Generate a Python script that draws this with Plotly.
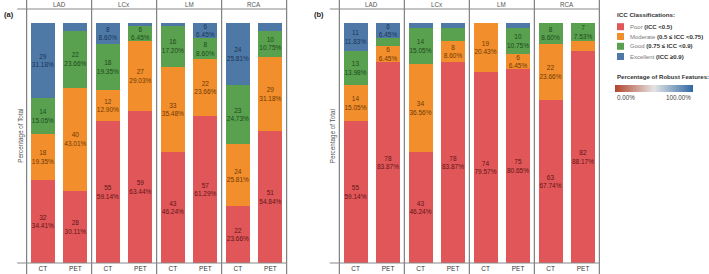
import plotly.graph_objects as go

# ---------------- data ----------------
arteries = ["LAD", "LCx", "LM", "RCA"]
modalities = ["CT", "PET"]
classes = ["Poor", "Moderate", "Good", "Excellent"]
class_ranges = ["(ICC <0.5)", "(0.5 \u2264 ICC <0.75)", "(0.75 \u2264 ICC <0.9)", "(ICC \u22650.9)"]
total_features = 93

# values ordered: LAD CT, LAD PET, LCx CT, LCx PET, LM CT, LM PET, RCA CT, RCA PET
a_poor = [32, 28, 55, 59, 43, 57, 22, 51]
a_moderate = [18, 40, 12, 27, 33, 22, 24, 29]
a_good = [14, 22, 18, 6, 16, 8, 23, 10]
a_excellent = [29, 3, 8, 1, 1, 6, 24, 3]

b_poor = [55, 78, 43, 78, 74, 75, 63, 82]
b_moderate = [14, 6, 34, 8, 19, 6, 22, 4]
b_good = [13, 3, 14, 5, 0, 10, 8, 7]
b_excellent = [11, 6, 2, 2, 0, 2, 0, 0]

panels = {"(a)": [a_poor, a_moderate, a_good, a_excellent],
          "(b)": [b_poor, b_moderate, b_good, b_excellent]}

# ---------------- styles ----------------
W, H = 709, 274
bar_colors = ["#E15759", "#F28E2B", "#59A14F", "#4E79A7"]
text_colors = ["#5E1517", "#6E3A05", "#1E4A1A", "#1B3558"]
FONT = "Liberation Sans, Arial, sans-serif"


def px(x):
    return x / W


def py(y):
    return 1 - y / H


panel_left = [26.7, 339.3]
facet_w = 65.0
plot_top, plot_bot = 9.0, 263.0
bar_top = 23.0
y_max = total_features * (plot_bot - plot_top) / (plot_bot - bar_top)

fig = go.Figure()
layout = dict(
    width=W, height=H, margin=dict(l=0, r=0, t=0, b=0, pad=0, autoexpand=False),
    paper_bgcolor="white", plot_bgcolor="white",
    barmode="stack", bargap=1 - 24 / 32.5, showlegend=False,
    font=dict(family=FONT, size=6.5, color="#333"),
    uniformtext=dict(minsize=6.5, mode="show"),
)
shapes, annotations = [], []

for p, (plabel, series) in enumerate(panels.items()):
    yname = "y" if p == 0 else "y2"
    ykey = "yaxis" if p == 0 else "yaxis2"
    left = panel_left[p]
    for i, art in enumerate(arteries):
        k = p * 4 + i + 1
        xname = "x" if k == 1 else f"x{k}"
        xkey = "xaxis" if k == 1 else f"xaxis{k}"
        x0 = left + i * facet_w
        layout[xkey] = dict(domain=[px(x0), px(x0 + facet_w)], anchor=yname,
                            showgrid=False, zeroline=False, showline=False,
                            ticks="", tickfont=dict(size=6.5, color="#333"),
                            automargin=False, fixedrange=True)
        for c, cls in enumerate(classes):
            vals = series[c][2 * i:2 * i + 2]
            texts = [f"{v}<br>{v / total_features * 100:.2f}%" if v >= 6 else "" for v in vals]
            fig.add_trace(go.Bar(
                x=modalities, y=vals, xaxis=xname, yaxis=yname, name=cls,
                marker=dict(color=bar_colors[c], line=dict(width=0)),
                text=texts, textposition="inside", insidetextanchor="middle",
                textangle=0, textfont=dict(size=6.5, color=text_colors[c], family=FONT),
                hoverinfo="skip",
            ))
        # facet header
        annotations.append(dict(x=px(x0 + facet_w / 2), y=py(4.5), xref="paper", yref="paper",
                                text=art, showarrow=False, font=dict(size=6.3, color="#555"),
                                xanchor="center", yanchor="middle"))
    layout[ykey] = dict(domain=[py(plot_bot), py(plot_top)], range=[0, y_max],
                        anchor="x" if p == 0 else "x5", visible=False, fixedrange=True)
    # vertical separators
    for j in range(5):
        xv = left + j * facet_w
        shapes.append(dict(type="line", xref="paper", yref="paper", x0=px(xv), x1=px(xv),
                           y0=0, y1=1, line=dict(color="#666", width=1)))
    # horizontal lines
    for yh in (plot_top, plot_bot):
        shapes.append(dict(type="line", xref="paper", yref="paper", x0=px(left - 9.5),
                           x1=px(left + 4 * facet_w), y0=py(yh), y1=py(yh),
                           line=dict(color="#888", width=1)))
    # y-axis title
    annotations.append(dict(x=px(left - 6), y=py(136), xref="paper", yref="paper",
                            text="Percentage of Total", textangle=-90, showarrow=False,
                            font=dict(size=6.3, color="#555"), xanchor="center", yanchor="middle"))
    # panel label
    annotations.append(dict(x=px(2 if p == 0 else 312), y=py(15), xref="paper", yref="paper",
                            text=f"<b>{plabel}</b>", showarrow=False,
                            font=dict(size=7.5, color="#222"), xanchor="left", yanchor="middle"))

# ---------------- legend ----------------
lx = 615
annotations.append(dict(x=px(lx), y=py(15), xref="paper", yref="paper",
                        text="<b>ICC Classifications:</b>", showarrow=False,
                        font=dict(size=6.2, color="#333"), xanchor="left", yanchor="middle"))
row_y = [26.7, 36.5, 46.3, 56.5]
for c, cls in enumerate(classes):
    yy = row_y[c]
    shapes.append(dict(type="rect", xref="paper", yref="paper",
                       x0=px(lx + 2), x1=px(lx + 9), y0=py(yy + 3.5), y1=py(yy - 3.5),
                       fillcolor=bar_colors[c], line=dict(width=0)))
    annotations.append(dict(x=px(lx + 12.5), y=py(yy), xref="paper", yref="paper",
                            text=f"<span style='color:#777'>{cls}</span> <b>{class_ranges[c]}</b>",
                            showarrow=False, font=dict(size=6.0, color="#333"),
                            xanchor="left", yanchor="middle"))

annotations.append(dict(x=px(lx), y=py(76), xref="paper", yref="paper",
                        text="<b>Percentage of Robust Features:</b>", showarrow=False,
                        font=dict(size=6.1, color="#333"), xanchor="left", yanchor="middle"))
fig.add_trace(go.Scatter(
    x=[None], y=[None], xaxis="x", yaxis="y", mode="markers", hoverinfo="skip",
    marker=dict(color=[0], cmin=0, cmax=100,
                colorscale=[[0, "#B2442C"], [0.5, "#E4E4E4"], [1, "#2F68A5"]],
                showscale=True,
                colorbar=dict(orientation="h", x=px(lx), xanchor="left", y=py(85),
                              yanchor="top", len=78, lenmode="pixels", thickness=7,
                              thicknessmode="pixels", outlinewidth=0, showticklabels=False,
                              ticks="", xpad=0, ypad=0)),
))
shapes.append(dict(type="line", xref="paper", yref="paper", x0=px(654), x1=px(654),
                   y0=py(89), y1=py(92), line=dict(color="#444", width=1)))
annotations.append(dict(x=px(lx), y=py(97.5), xref="paper", yref="paper", text="0.00%",
                        showarrow=False, font=dict(size=6.3, color="#444"),
                        xanchor="left", yanchor="middle"))
annotations.append(dict(x=px(692.5), y=py(97.5), xref="paper", yref="paper", text="100.00%",
                        showarrow=False, font=dict(size=6.3, color="#444"),
                        xanchor="right", yanchor="middle"))

layout["shapes"] = shapes
layout["annotations"] = annotations
fig.update_layout(**layout)
fig.write_html(
    "out.html",
    config={"displayModeBar": False, "staticPlot": True},
    post_script="document.documentElement.style.margin='0';document.body.style.margin='0';"
                "document.body.style.padding='0';document.body.style.overflow='hidden';",
)
